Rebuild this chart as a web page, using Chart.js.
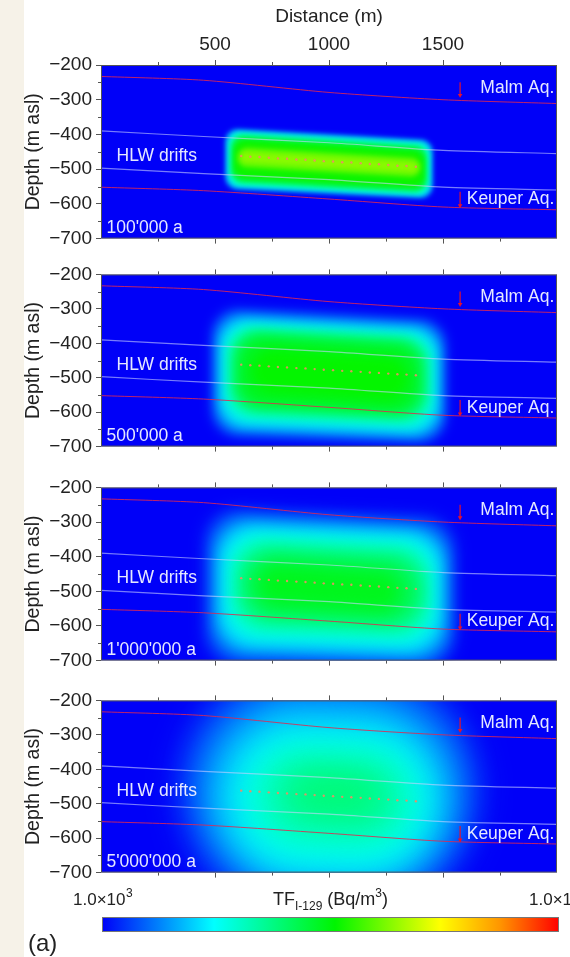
<!DOCTYPE html>
<html>
<head>
<meta charset="utf-8">
<script src="https://cdn.jsdelivr.net/npm/chart.js@4.4.1/dist/chart.umd.min.js"></script>
<style>
  body { margin: 0; width: 570px; height: 957px; overflow: hidden; position: relative; background: #fff; }
  #strip { position: absolute; left: 0; top: 0; width: 24px; height: 957px; background: #f6f2e8; }
  canvas { position: absolute; left: 0; }
</style>
</head>
<body>
<div id="strip"></div>
<canvas id="p1" width="570" height="254" style="top:0px"></canvas>
<canvas id="p2" width="570" height="203" style="top:259px"></canvas>
<canvas id="p3" width="570" height="204" style="top:472px"></canvas>
<canvas id="p4" width="570" height="203" style="top:685px"></canvas>
<canvas id="cbar" width="570" height="79" style="top:878px"></canvas>
<script>
// axis ticks
const distanceTicks = [500, 1000, 1500];
const distanceMinor = [250, 750, 1250, 1750];
const depthTicks = [-200, -300, -400, -500, -600, -700];
const depthMinor = [-250, -350, -450, -550, -650];

// geological boundaries (same in every panel)
const geoX = [0, 450, 1000, 1500, 2000];
const malmTop = [-233, -244, -279, -300, -311];
const keuperTop = [-552, -562, -586, -609, -617];
const driftLayerTop = [-390, -406, -424, -446, -455];
const driftLayerBase = [-497, -513, -530, -552, -560];

// HLW drift positions
const driftX = [615, 655, 695, 736, 776, 816, 857, 897, 937, 977, 1018, 1058, 1098, 1139, 1179, 1219, 1260, 1300, 1340, 1381];
const driftY = [-462, -464, -465, -467, -469, -470, -472, -473, -475, -477, -478, -480, -481, -483, -485, -486, -488, -490, -491, -493];

// aquifer arrows
const arrowX = [1575, 1575];
const arrowFrom = [-250, -565];
const arrowTo = [-287, -605];

// plume contours: [log10 TF, x left, x right, top at left, top at right, base at left, base at right]
const plume100k = [
  [3.45, 545, 1455, -383, -417, -556, -585],
  [3.84, 556, 1444, -390, -424, -549, -578],
  [4.30, 570, 1430, -400, -434, -538, -567],
  [4.56, 582, 1418, -413, -447, -525, -555],
  [4.78, 598, 1402, -436, -468, -494, -524],
  [4.90, 612, 1388, -450, -480, -480, -510]
];
const plume500k = [
  [3.30, 488, 1512, -298, -335, -666, -690],
  [3.60, 515, 1485, -320, -355, -645, -670],
  [3.84, 540, 1460, -340, -372, -625, -650],
  [4.20, 568, 1432, -356, -388, -600, -626],
  [4.42, 600, 1400, -376, -406, -578, -604],
  [4.54, 660, 1345, -412, -442, -540, -570]
];
const plume1M = [
  [3.20, 458, 1552, -260, -290, -712, -722],
  [3.45, 493, 1520, -285, -315, -682, -702],
  [3.66, 524, 1490, -310, -338, -656, -676],
  [3.84, 555, 1460, -330, -356, -632, -652],
  [4.08, 590, 1430, -356, -382, -600, -622],
  [4.28, 630, 1390, -386, -412, -570, -592],
  [4.44, 690, 1310, -420, -446, -536, -560]
];
const plume5M = [
  [3.18, 340, 1660, -80, -100, -820, -840],
  [3.39, 420, 1590, -150, -170, -760, -780],
  [3.60, 500, 1510, -220, -240, -720, -735],
  [3.78, 590, 1440, -285, -300, -675, -690],
  [3.93, 680, 1360, -340, -355, -610, -625],
  [4.08, 780, 1270, -390, -405, -550, -565],
  [4.17, 860, 1200, -420, -435, -510, -525]
];

const TF_MIN = 3, TF_MAX = 6;

Chart.defaults.font.family = "'Liberation Sans', Arial, sans-serif";
Chart.defaults.color = '#222';

const colourStops = [
  [0, [0, 0, 248]], [0.245, [0, 255, 255]], [0.51, [0, 245, 0]],
  [0.74, [255, 255, 0]], [0.87, [255, 150, 0]], [1, [255, 0, 0]]
];
function tfColour(logTf) {
  let t = (logTf - TF_MIN) / (TF_MAX - TF_MIN);
  t = Math.max(0, Math.min(1, t));
  for (let i = 1; i < colourStops.length; i++) {
    const [t1, c1] = colourStops[i];
    const [t0, c0] = colourStops[i - 1];
    if (t <= t1) {
      const f = (t - t0) / (t1 - t0);
      const c = c0.map((v, k) => Math.round(v + (c1[k] - v) * f));
      return `rgb(${c[0]},${c[1]},${c[2]})`;
    }
  }
  return 'rgb(255,0,0)';
}

function roundQuad(ctx, pts, r) {
  const s = [(pts[3][0] + pts[0][0]) / 2, (pts[3][1] + pts[0][1]) / 2];
  ctx.beginPath();
  ctx.moveTo(s[0], s[1]);
  for (let i = 0; i < 4; i++) {
    const p = pts[i], q = pts[(i + 1) % 4];
    ctx.arcTo(p[0], p[1], q[0], q[1], r);
  }
  ctx.closePath();
}

const textColour = 'rgba(236,239,255,0.97)';

function makePanel(id, plume, blur, corner, age, withDistance) {
  const field = {
    id: 'field',
    beforeDatasetsDraw(chart) {
      const { ctx, chartArea: a, scales: { x, y } } = chart;
      ctx.save();
      ctx.beginPath();
      ctx.rect(a.left, a.top, a.width, a.height);
      ctx.clip();
      ctx.fillStyle = tfColour(TF_MIN);
      ctx.fillRect(a.left, a.top, a.width, a.height);
      ctx.filter = `blur(${blur}px)`;
      plume.forEach(row => {
        const [v, x1, x2, tl, tr, bl, br] = row;
        const pts = [
          [x.getPixelForValue(x1), y.getPixelForValue(tl)],
          [x.getPixelForValue(x2), y.getPixelForValue(tr)],
          [x.getPixelForValue(x2), y.getPixelForValue(br)],
          [x.getPixelForValue(x1), y.getPixelForValue(bl)]
        ];
        const w = pts[1][0] - pts[0][0];
        const h = Math.min(pts[3][1] - pts[0][1], pts[2][1] - pts[1][1]);
        const r = Math.min(corner, w / 2, h / 2) * 0.99;
        roundQuad(ctx, pts, r);
        ctx.fillStyle = tfColour(v);
        ctx.fill();
      });
      ctx.restore();
    },
    afterDatasetsDraw(chart) {
      const { ctx, chartArea: a, scales: { x, y } } = chart;
      ctx.save();
      ctx.beginPath();
      ctx.rect(a.left, a.top, a.width, a.height);
      ctx.clip();
      ctx.fillStyle = textColour;
      ctx.font = "17.5px 'Liberation Sans', Arial, sans-serif";
      ctx.textBaseline = 'middle';
      ctx.textAlign = 'right';
      ctx.fillText('Malm Aq.', x.getPixelForValue(1988), y.getPixelForValue(-267));
      ctx.fillText('Keuper Aq.', x.getPixelForValue(1988), y.getPixelForValue(-587));
      ctx.textAlign = 'left';
      ctx.fillText('HLW drifts', x.getPixelForValue(68), y.getPixelForValue(-463));
      ctx.fillText(age, x.getPixelForValue(24), y.getPixelForValue(-671));
      ctx.restore();

      // frame and minor ticks
      ctx.save();
      ctx.strokeStyle = '#555';
      ctx.lineWidth = 1;
      ctx.strokeRect(a.left + 0.5, a.top + 0.5, a.width - 1, a.height - 1);
      ctx.beginPath();
      depthMinor.forEach(v => {
        const p = Math.round(y.getPixelForValue(v)) + 0.5;
        ctx.moveTo(a.left - 3, p); ctx.lineTo(a.left, p);
      });
      distanceMinor.forEach(v => {
        const p = Math.round(x.getPixelForValue(v)) + 0.5;
        ctx.moveTo(p, a.top - 3); ctx.lineTo(p, a.top);
        ctx.moveTo(p, a.bottom); ctx.lineTo(p, a.bottom + 3);
      });
      ctx.stroke();
      ctx.restore();
    }
  };

  const lineSet = (ys, colour, width) => ({
    data: geoX.map((v, i) => ({ x: v, y: ys[i] })),
    showLine: true, borderColor: colour, borderWidth: width,
    pointRadius: 0, tension: 0.25
  });

  const tickGrid = { drawOnChartArea: false, drawTicks: true, tickLength: 5, tickColor: '#555', color: '#555' };

  return new Chart(document.getElementById(id), {
    type: 'scatter',
    data: {
      datasets: [
        {
          data: driftX.map((v, i) => ({ x: v, y: driftY[i] })),
          pointRadius: 1.2, pointBackgroundColor: 'rgba(240,140,100,0.9)', pointBorderWidth: 0
        },
        {
          data: arrowX.map((v, i) => ({ x: v, y: arrowTo[i] })),
          pointStyle: 'triangle', rotation: 180, pointRadius: 2.6,
          pointBackgroundColor: '#e8102a', pointBorderWidth: 0
        },
        ...arrowX.map((v, i) => ({
          data: [{ x: v, y: arrowFrom[i] }, { x: v, y: arrowTo[i] }],
          showLine: true, borderColor: '#e8102a', borderWidth: 1.2, pointRadius: 0
        })),
        lineSet(malmTop, 'rgba(225,40,80,0.85)', 1),
        lineSet(keuperTop, 'rgba(225,40,80,0.85)', 1),
        lineSet(driftLayerTop, 'rgba(200,208,255,0.6)', 1.2),
        lineSet(driftLayerBase, 'rgba(200,208,255,0.6)', 1.2)
      ]
    },
    options: {
      responsive: false,
      animation: false,
      devicePixelRatio: 1,
      layout: { padding: { left: 0, right: 13, top: 0, bottom: 0 } },
      plugins: { legend: { display: false }, tooltip: { enabled: false } },
      scales: {
        x: {
          type: 'linear', position: 'top', min: 0, max: 2000,
          afterBuildTicks: s => { s.ticks = distanceTicks.map(v => ({ value: v })); },
          afterFit: s => { s.height = withDistance ? 65 : 14; },
          grid: tickGrid,
          border: { display: false },
          ticks: { display: withDistance, padding: 4, maxRotation: 0, font: { size: 19 }, callback: v => String(v) },
          title: { display: withDistance, text: 'Distance (m)', font: { size: 19 }, padding: { top: 5, bottom: 0 } }
        },
        xb: {
          type: 'linear', position: 'bottom', min: 0, max: 2000,
          afterBuildTicks: s => { s.ticks = distanceTicks.map(v => ({ value: v })); },
          afterFit: s => { s.height = 14; },
          grid: tickGrid,
          border: { display: false },
          ticks: { display: false }
        },
        y: {
          type: 'linear', position: 'left', min: -700, max: -200,
          afterBuildTicks: s => { s.ticks = depthTicks.map(v => ({ value: v })); },
          afterFit: s => { s.width = 101; },
          grid: tickGrid,
          border: { display: false },
          ticks: { padding: 4, font: { size: 19 }, callback: v => '\u2212' + Math.abs(v) },
          title: { display: true, text: 'Depth (m asl)', font: { size: 19.5 }, padding: { top: 22, bottom: 0 } }
        }
      }
    },
    plugins: [field]
  });
}

makePanel('p1', plume100k, 2.5, 12, "100'000 a", true);
makePanel('p2', plume500k, 6, 26, "500'000 a", false);
makePanel('p3', plume1M, 8, 32, "1'000'000 a", false);
makePanel('p4', plume5M, 16, 999, "5'000'000 a", false);

// colour bar
const colourBar = {
  id: 'colourBar',
  afterDraw(chart) {
    const { ctx, chartArea: a, scales: { x } } = chart;
    const g = ctx.createLinearGradient(x.getPixelForValue(TF_MIN), 0, x.getPixelForValue(TF_MAX), 0);
    colourStops.forEach(([t]) => g.addColorStop(t, tfColour(TF_MIN + t * (TF_MAX - TF_MIN))));
    ctx.save();
    ctx.fillStyle = g;
    ctx.fillRect(a.left, a.top, a.width, a.height);
    ctx.strokeStyle = '#777';
    ctx.lineWidth = 1;
    ctx.strokeRect(a.left + 0.5, a.top + 0.5, a.width - 1, a.height - 1);

    const fam = "'Liberation Sans', Arial, sans-serif";
    const big = `17px ${fam}`, small = `12px ${fam}`;
    ctx.fillStyle = '#222';
    ctx.textBaseline = 'alphabetic';
    ctx.textAlign = 'left';
    const base = a.top - 12;
    const sciLabel = (x0, exp) => {
      ctx.font = big;
      ctx.fillText('1.0\u00d710', x0, base);
      const w = ctx.measureText('1.0\u00d710').width;
      ctx.font = small;
      ctx.fillText(exp, x0 + w + 0.5, base - 8);
    };
    sciLabel(73, '3');
    sciLabel(529, '6');

    // title TF_I-129 (Bq/m3)
    const parts = [['TF', 18, 0], ['I-129', 12, 5], [' (Bq/m', 18, 0], ['3', 12, -8], [')', 18, 0]];
    let total = 0;
    parts.forEach(([s, sz]) => { ctx.font = `${sz}px ${fam}`; total += ctx.measureText(s).width; });
    let px = (a.left + a.right) / 2 - total / 2;
    parts.forEach(([s, sz, dy]) => {
      ctx.font = `${sz}px ${fam}`;
      ctx.fillText(s, px, base + dy);
      px += ctx.measureText(s).width;
    });

    ctx.font = `24px ${fam}`;
    ctx.fillText('(a)', 28, 73);
    ctx.restore();
  }
};

new Chart(document.getElementById('cbar'), {
  type: 'scatter',
  data: { datasets: [] },
  options: {
    responsive: false,
    animation: false,
    devicePixelRatio: 1,
    layout: { padding: { left: 102, right: 11, top: 39, bottom: 25 } },
    plugins: { legend: { display: false }, tooltip: { enabled: false } },
    scales: {
      x: { display: false, min: TF_MIN, max: TF_MAX },
      y: { display: false, min: 0, max: 1 }
    }
  },
  plugins: [colourBar]
});
</script>
</body>
</html>
